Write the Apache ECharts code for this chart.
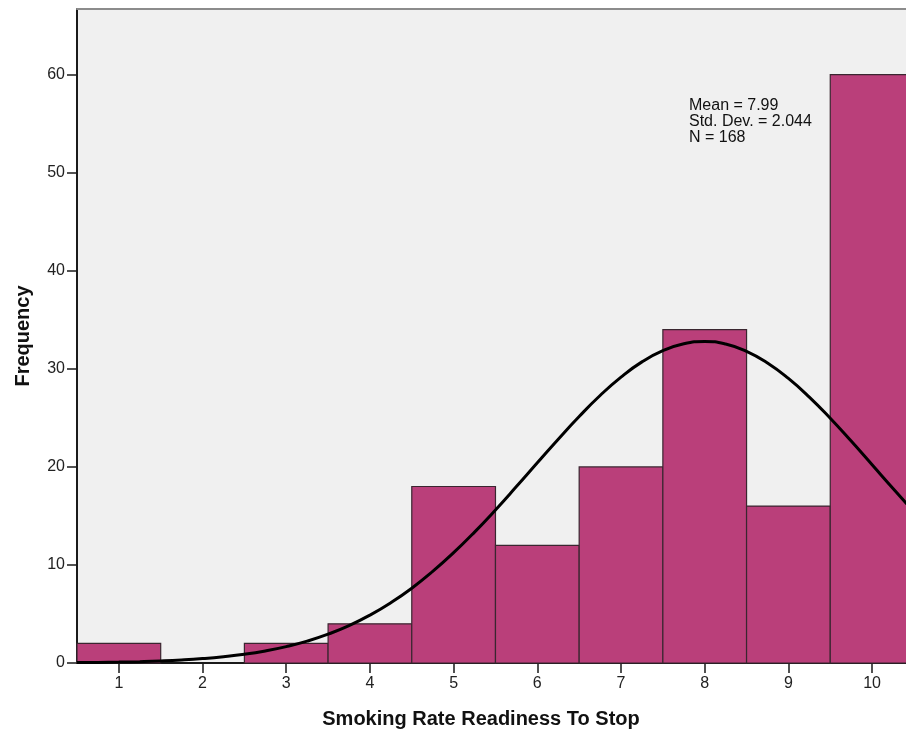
<!DOCTYPE html>
<html>
<head>
<meta charset="utf-8">
<script src="https://cdn.jsdelivr.net/npm/echarts@6/dist/echarts.min.js"></script>
<style>
html,body{margin:0;padding:0;background:#fff;}
#chart{width:906px;height:736px;}
</style>
</head>
<body>
<div id="chart"></div>
<script>
// Histogram bins (score 1..10) and frequencies
const bins = [1, 2, 3, 4, 5, 6, 7, 8, 9, 10];
const freq = [2, 0, 2, 4, 18, 12, 20, 34, 16, 60];
// Normal curve points
const curveX = [0.5, 0.75, 1, 1.25, 1.5, 1.75, 2, 2.25, 2.5, 2.75, 3, 3.25, 3.5, 3.75, 4, 4.25, 4.5, 4.75, 5, 5.25, 5.5, 5.75, 6, 6.25, 6.5, 6.75, 7, 7.25, 7.5, 7.75, 8, 8.25, 8.5, 8.75, 9, 9.25, 9.5, 9.75, 10, 10.25, 10.5];
const curveY = [0.04, 0.06, 0.09, 0.14, 0.21, 0.31, 0.45, 0.64, 0.89, 1.23, 1.67, 2.23, 2.94, 3.81, 4.88, 6.15, 7.63, 9.34, 11.25, 13.35, 15.61, 17.99, 20.42, 22.83, 25.14, 27.28, 29.16, 30.71, 31.86, 32.56, 32.79, 32.53, 31.79, 30.60, 29.02, 27.12, 24.96, 22.63, 20.22, 17.80, 15.43];
// Tick labels
const xTicks = [1, 2, 3, 4, 5, 6, 7, 8, 9, 10];
const yTicks = [0, 10, 20, 30, 40, 50, 60];
const statsLines = ['Mean = 7.99', 'Std. Dev. = 2.044', 'N = 168'];
const xTitle = 'Smoking Rate Readiness To Stop';
const yTitle = 'Frequency';

const chart = echarts.init(document.getElementById('chart'));
const font = 'Liberation Sans, Arial, sans-serif';
chart.setOption({
  animation: false,
  backgroundColor: '#ffffff',
  grid: {
    left: 77, top: 9, bottom: 73, right: 0,
    show: true, backgroundColor: '#f0f0f0', borderWidth: 0
  },
  xAxis: [{
    type: 'value', min: 0.5, max: 10.405,
    axisLine: { show: true, onZero: false, lineStyle: { color: '#1a1a1a', width: 2 } },
    axisTick: { show: true, length: 10, customValues: xTicks, lineStyle: { color: '#1a1a1a', width: 1.5 } },
    axisLabel: { customValues: xTicks, margin: 13, fontSize: 16, color: '#222', fontFamily: font },
    splitLine: { show: false }
  }, {
    type: 'value', position: 'top', min: 0.5, max: 10.405,
    axisLine: { show: true, onZero: false, lineStyle: { color: '#8c8c8c', width: 2 } },
    axisTick: { show: false }, axisLabel: { show: false }, splitLine: { show: false }
  }],
  yAxis: {
    type: 'value', min: 0, max: 66.7,
    axisLine: { show: true, onZero: false, lineStyle: { color: '#1a1a1a', width: 2 } },
    axisTick: { show: true, length: 10, customValues: yTicks, lineStyle: { color: '#1a1a1a', width: 1.5 } },
    axisLabel: { customValues: yTicks, margin: 12, fontSize: 16, color: '#222', fontFamily: font },
    splitLine: { show: false }
  },
  series: [{
    type: 'custom',
    data: bins.map((b, i) => [b, freq[i]]),
    encode: { x: 0, y: 1 },
    z: 2,
    renderItem: function (params, api) {
      const x = api.value(0), y = api.value(1);
      if (!y) return null;
      const p0 = api.coord([x - 0.5, y]);
      const p1 = api.coord([x + 0.5, 0]);
      return {
        type: 'rect',
        shape: { x: p0[0], y: p0[1], width: p1[0] - p0[0], height: p1[1] - p0[1] },
        style: { fill: '#ba3f7a', stroke: '#3a2630', lineWidth: 1.2 }
      };
    }
  }, {
    type: 'line',
    data: curveX.map((x, i) => [x, curveY[i]]),
    smooth: true,
    symbol: 'none',
    z: 3,
    lineStyle: { color: '#000', width: 3 }
  }],
  graphic: [{
    type: 'text', left: 689, top: 97,
    style: { text: statsLines.join('\n'), fontSize: 16, lineHeight: 16.3, fill: '#111', font: '16px ' + font }
  }, {
    type: 'text', x: 481, y: 719,
    style: { text: xTitle, fontSize: 20, fontWeight: 'bold', fontFamily: font, fill: '#111', align: 'center', verticalAlign: 'middle' }
  }, {
    type: 'text', x: 23, y: 336, rotation: Math.PI / 2,
    style: { text: yTitle, fontSize: 20, fontWeight: 'bold', fontFamily: font, fill: '#111', align: 'center', verticalAlign: 'middle' }
  }]
});
</script>
</body>
</html>
